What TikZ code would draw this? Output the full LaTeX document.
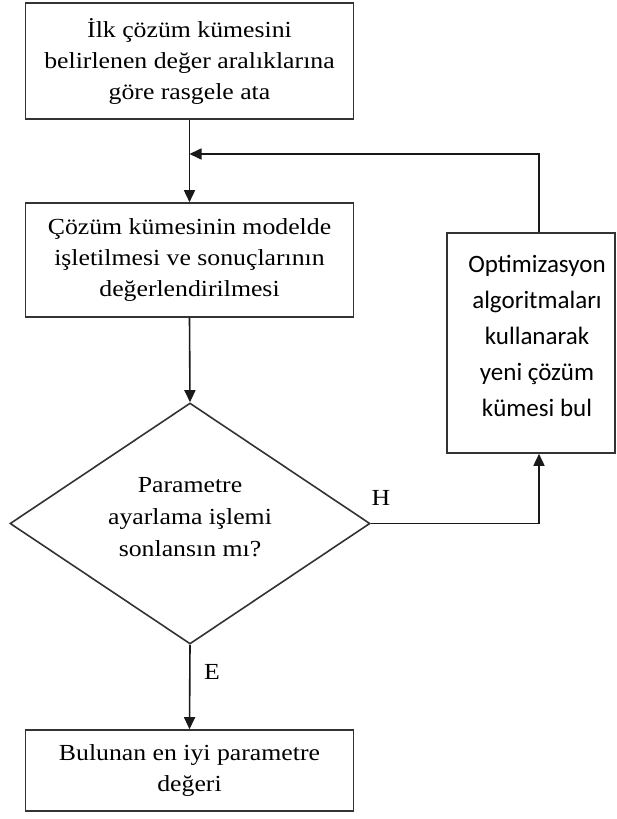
\documentclass[tikz,border=0pt]{standalone}
\usepackage{fontspec}
\setmainfont{Liberation Serif}[FakeStretch=1.12]
\newfontfamily\calibri{Carlito}
\usetikzlibrary{arrows.meta,shapes.geometric}
\begin{document}
\begin{tikzpicture}[x=1pt,y=-1pt,
  proc/.style={draw=black!80, line width=1.6pt, rectangle, align=center, inner sep=0pt,
    minimum width=328pt, font=\fontsize{23}{31}\selectfont},
  decide/.style={draw=black!80, line width=1.6pt, diamond, inner sep=0pt,
    minimum width=360pt, minimum height=241pt},
  sidebox/.style={draw=black!80, line width=1.6pt, rectangle, inner sep=0pt},
  txt/.style={align=center, inner sep=0pt, font=\fontsize{23}{32}\selectfont},
  sidetxt/.style={align=center, inner sep=0pt, font=\calibri\fontsize{25}{36}\selectfont},
  conn/.style={line width=1.6pt, draw=black!90, -{Triangle[width=11pt,length=12pt]}},
  plain/.style={line width=1.6pt, draw=black!90},
  lbl/.style={font=\fontsize{23}{28}\selectfont, inner sep=0pt}
]
\useasboundingbox (0,0) rectangle (617,819);

\node[proc, minimum height=116pt] (b1) at (189.5,61) {İlk çözüm kümesini\\belirlenen değer aralıklarına\\göre rasgele ata};
\node[proc, minimum height=114pt] (b2) at (189.5,260) {Çözüm kümesinin modelde\\işletilmesi ve sonuçlarının\\değerlendirilmesi};
\node[decide] (d) at (190,523.5) {};
\node[txt] (dt) at (190,517) {Parametre\\ayarlama işlemi\\sonlansın mı?};
\node[sidebox, minimum width=168pt, minimum height=220pt] (b3) at (531,343) {};
\node[sidetxt] (b3t) at (537,336) {Optimizasyon\\algoritmaları\\kullanarak\\yeni çözüm\\kümesi bul};
\node[proc, minimum height=81pt] (b4) at (189.5,770.5) {Bulunan en iyi parametre\\değeri};

\coordinate (join) at (189.5,154);
\coordinate (up) at (539,523.5);

\draw[conn] (b1.south) -- (b2.north);
\draw[conn] (b3.north -| up) |- (join);
\draw[conn] (b2.south) -- (d.north);
\draw[plain] (d.east) -- (up);
\draw[conn] (up) -- (b3.south -| up);
\draw[conn] (d.south) -- (b4.north);

\node[lbl] (h) at (381,498) {H};
\node[lbl] (e) at (212,672) {E};
\end{tikzpicture}
\end{document}
